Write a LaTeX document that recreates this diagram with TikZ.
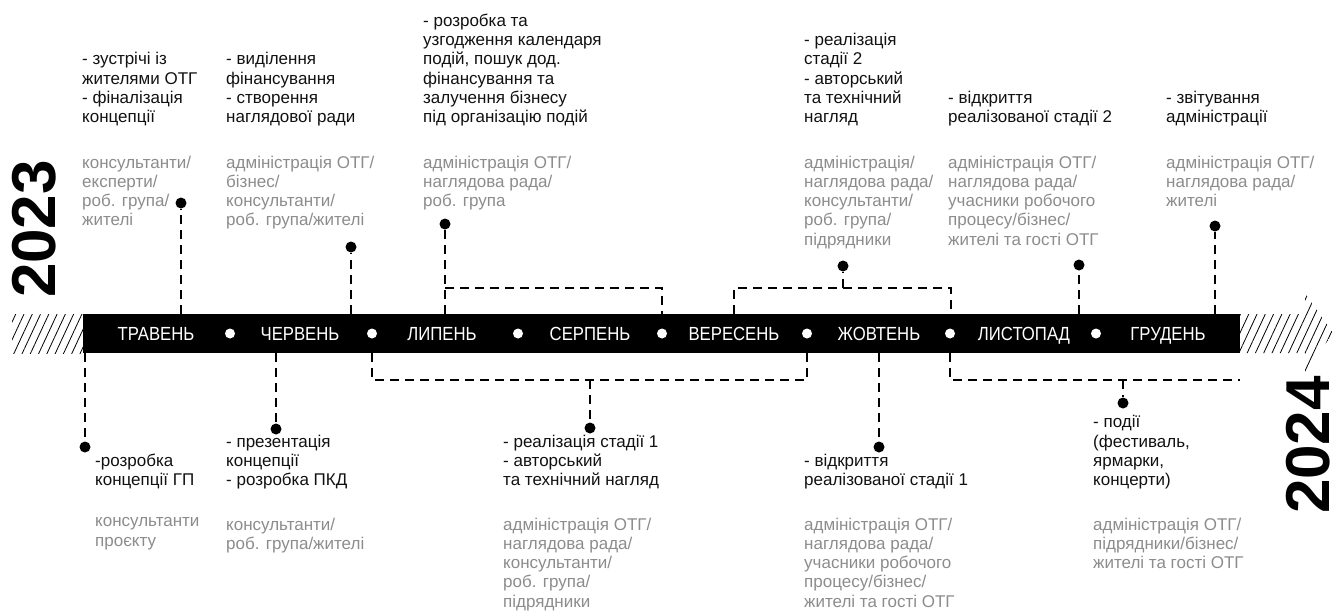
\documentclass[tikz,border=0pt]{standalone}
\usepackage{fontspec}
\setmainfont{Liberation Sans}
\newfontfamily\monthfont[FakeStretch=0.88]{Liberation Sans}
\usepackage{tikz}
\usetikzlibrary{patterns.meta, positioning, calc}
\definecolor{inkblack}{HTML}{111111}
\definecolor{rolegray}{HTML}{8C8C8C}
\tikzset{
  % Timeline bar and months
  timebar/.style={rectangle, fill=black, inner sep=0pt, minimum height=39pt},
  monthlabel/.style={text=white, font=\monthfont\fontsize{19}{19}\selectfont,
    inner sep=0pt, anchor=base},
  monthdot/.style={circle, fill=white, inner sep=0pt, minimum size=10pt},
  % Hatched ends of the bar
  hatch/.style={pattern={Lines[angle=65, distance=7.5pt, line width=0.8pt]},
    pattern color=black},
  % Dashed leaders and their pins
  leader/.style={dash pattern=on 9pt off 6pt, line width=2.5pt, black},
  stopdot/.style={circle, fill=black, inner sep=0pt, minimum size=11pt},
  % Task / role texts
  tasktext/.style={align=left, inner sep=0pt, text=inkblack,
    font=\fontsize{17}{19.3}\selectfont,
    execute at begin node=\strut, execute at end node=\strut},
  roletext/.style={tasktext, text=rolegray},
  % Years
  yearlabel/.style={rotate=90, font=\bfseries\fontsize{62}{62}\selectfont,
    inner sep=0pt, text=black},
}

\begin{document}
\begin{tikzpicture}[x=1pt, y=-1pt]
  \useasboundingbox (0,0) rectangle (1333,614);

  % Hatched ends
  \fill[hatch] (12,314) rectangle (83,353);
  \fill[hatch] (1240,314) -- (1305,314) -- (1305,293) -- (1333,333)
    -- (1305,373) -- (1305,353) -- (1240,353) -- cycle;

  % Bar
  \node[timebar, minimum width=1157pt, anchor=north west] (bar) at (83,314) {};

  % Months
  \foreach \mname/\mx [count=\i] in {ТРАВЕНЬ/156, ЧЕРВЕНЬ/300, ЛИПЕНЬ/442,
      СЕРПЕНЬ/590, ВЕРЕСЕНЬ/734, ЖОВТЕНЬ/879, ЛИСТОПАД/1024, ГРУДЕНЬ/1168}
    \node[monthlabel] (m\i) at (\mx,340.5) {\mname};
  \foreach \dx [count=\i] in {230, 372, 518, 662, 807, 950, 1096}
    \node[monthdot] (md\i) at (\dx,333.5) {};

  % Years
  \node[yearlabel] (y2023) at (34,229) {2023};
  \node[yearlabel] (y2024) at (1308,445) {2024};

  % Pins above
  \node[stopdot] (pA) at (181,203) {};
  \node[stopdot] (pB) at (351,247) {};
  \node[stopdot] (pC) at (445,224) {};
  \node[stopdot] (pD) at (843,266) {};
  \node[stopdot] (pE) at (1079,265) {};
  \node[stopdot] (pF) at (1215,226) {};
  % Pins below
  \node[stopdot] (qa) at (85,447) {};
  \node[stopdot] (qb) at (276,429) {};
  \node[stopdot] (qc) at (590,428) {};
  \node[stopdot] (qd) at (879,447) {};
  \node[stopdot] (qe) at (1123,403) {};

  % Bracket corners
  \coordinate (cL) at (445,288);
  \coordinate (cR) at (662,288);
  \coordinate (dL) at (734,288);
  \coordinate (dR) at (951,288);
  \coordinate (kL) at (372,380);
  \coordinate (kR) at (807,380);
  \coordinate (nL) at (950,380);
  \coordinate (nR) at (1240,380);

  % Leaders above
  \draw[leader] (pA |- bar.north) -- (pA);
  \draw[leader] (pB |- bar.north) -- (pB);
  \draw[leader] (pC |- bar.north) -- (pC);
  \draw[leader] (cL) -- (cR) -- (cR |- bar.north);
  \draw[leader] (dL |- bar.north) -- (dL) -- (dR) -- (dR |- bar.north);
  \draw[leader] (pD |- dL) -- (pD);
  \draw[leader] (pE |- bar.north) -- (pE);
  \draw[leader] (pF |- bar.north) -- (pF);

  % Leaders below
  \draw[leader] (qa |- bar.south) -- (qa);
  \draw[leader] (qb |- bar.south) -- (qb);
  \draw[leader] (kL |- bar.south) -- (kL) -- (kR) -- (kR |- bar.south);
  \draw[leader] (qc |- kL) -- (qc);
  \draw[leader] (qd |- bar.south) -- (qd);
  \draw[leader] (nL |- bar.south) -- (nL) -- (nR);
  \draw[leader] (qe |- nL) -- (qe);

  % Texts above
  \node[tasktext, anchor=south west] (tA) at (82,128.8)
    {- зустрічі із\\жителями ОТГ\\- фіналізація\\концепції};
  \node[roletext, anchor=north west] (rA) at (82,155.5)
    {консультанти/\\експерти/\\роб. група/\\жителі};
  \node[tasktext, anchor=south west] (tB) at (226,128.8)
    {- виділення\\фінансування\\- створення\\наглядової ради};
  \node[roletext, anchor=north west] (rB) at (226,155.5)
    {адміністрація ОТГ/\\бізнес/\\консультанти/\\роб. група/жителі};
  \node[tasktext, anchor=south west] (tC) at (423,128.8)
    {- розробка та\\узгодження календаря\\подій, пошук дод.\\фінансування та\\залучення бізнесу\\під організацію подій};
  \node[roletext, anchor=north west] (rC) at (423,155.5)
    {адміністрація ОТГ/\\наглядова рада/\\роб. група};
  \node[tasktext, anchor=south west] (tD) at (804,128.8)
    {- реалізація\\стадії 2\\- авторський\\та технічний\\нагляд};
  \node[roletext, anchor=north west] (rD) at (804,155.5)
    {адміністрація/\\наглядова рада/\\консультанти/\\роб. група/\\підрядники};
  \node[tasktext, anchor=south west] (tE) at (948,128.8)
    {- відкриття\\реалізованої стадії 2};
  \node[roletext, anchor=north west] (rE) at (948,155.5)
    {адміністрація ОТГ/\\наглядова рада/\\учасники робочого\\процесу/бізнес/\\жителі та гості ОТГ};
  \node[tasktext, anchor=south west] (tF) at (1166,128.8)
    {- звітування\\адміністрації};
  \node[roletext, anchor=north west] (rF) at (1166,155.5)
    {адміністрація ОТГ/\\наглядова рада/\\жителі};

  % Texts below
  \node[tasktext, anchor=south west] (ta) at (95,491.8)
    {-розробка\\концепції ГП};
  \node[roletext, anchor=north west] (ra) at (95,517.5)
    {консультанти\\проєкту};
  \node[tasktext, anchor=south west] (tb) at (226,491.8)
    {- презентація\\концепції\\- розробка ПКД};
  \node[roletext, anchor=north west] (rb) at (226,517.5)
    {консультанти/\\роб. група/жителі};
  \node[tasktext, anchor=south west] (tc) at (503,491.8)
    {- реалізація стадії 1\\- авторський\\та технічний нагляд};
  \node[roletext, anchor=north west] (rc) at (503,517.5)
    {адміністрація ОТГ/\\наглядова рада/\\консультанти/\\роб. група/\\підрядники};
  \node[tasktext, anchor=south west] (td) at (804,491.8)
    {- відкриття\\реалізованої стадії 1};
  \node[roletext, anchor=north west] (rd) at (804,517.5)
    {адміністрація ОТГ/\\наглядова рада/\\учасники робочого\\процесу/бізнес/\\жителі та гості ОТГ};
  \node[tasktext, anchor=south west] (te) at (1093,491.8)
    {- події\\(фестиваль,\\ярмарки,\\концерти)};
  \node[roletext, anchor=north west] (re) at (1093,517.5)
    {адміністрація ОТГ/\\підрядники/бізнес/\\жителі та гості ОТГ};
\end{tikzpicture}
\end{document}
